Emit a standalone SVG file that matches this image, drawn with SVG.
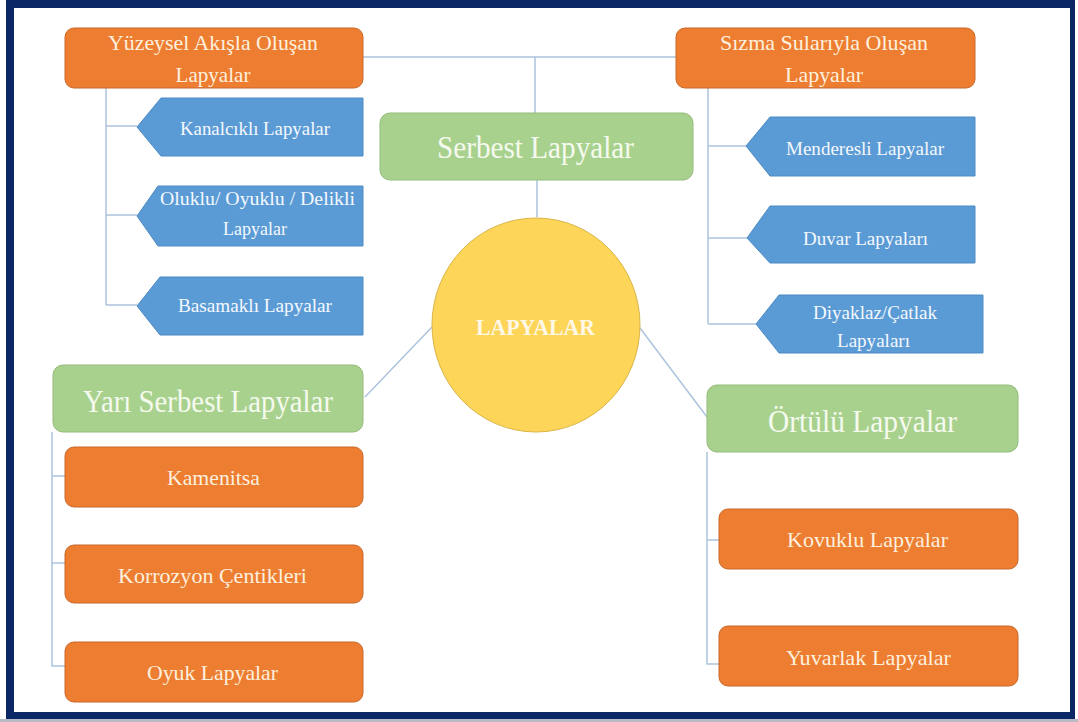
<svg xmlns="http://www.w3.org/2000/svg" width="1078" height="722" viewBox="0 0 1078 722">
<defs>
<style>
.t{font-family:'Liberation Serif',Tinos,'Times New Roman','DejaVu Serif',serif;text-anchor:middle;}
.or{fill:#ed7d31;stroke:#c8692b;stroke-width:1;}
.gr{fill:#a9d18e;stroke:#93bb7a;stroke-width:1;}
.bl{fill:#5b9bd5;stroke:#4d8bc4;stroke-width:1;}
.to{fill:#fdf0df;font-size:22px;}
.tg{fill:#f5faef;font-size:31px;}
.tb{fill:#f4f8fd;font-size:19px;}
.cn{fill:none;stroke:#adc3df;stroke-width:1.5;}
</style>
</defs>
<rect x="0" y="0" width="1078" height="722" fill="#ffffff"/>
<rect x="0" y="719" width="1078" height="3" fill="#b9bcc4"/>
<path d="M6 0H1075V719H6Z M14 8V712H1070V8Z" fill="#0c2766" fill-rule="evenodd"/>
<g id="connectors">
<path class="cn" d="M363 57H676M535 57V113M537 180V217"/>
<path class="cn" d="M106 88V305M106 126H137M106 215H137M106 305H137"/>
<path class="cn" d="M708 88V324M708 146H746M708 238H747M708 324H756"/>
<path class="cn" d="M432 327L365 397M640 328L707 417"/>
<path class="cn" d="M52 432V666H65M52 476H65M52 563H65"/>
<path class="cn" d="M707 452V664H719M707 540H719"/>
</g>
<g font-family="Liberation Serif, serif">
<g id="n-yuzeysel">
<rect class="or" x="65" y="28" width="298" height="60" rx="9"/>
<text class="t to" x="213" y="50" font-size="23" textLength="210" lengthAdjust="spacingAndGlyphs">Yüzeysel Akışla Oluşan</text>
<text class="t to" x="213" y="82" font-size="23" textLength="75" lengthAdjust="spacingAndGlyphs">Lapyalar</text>
</g>
<g id="n-sizma">
<rect class="or" x="676" y="28" width="299" height="60" rx="9"/>
<text class="t to" x="824" y="50" font-size="23" textLength="208" lengthAdjust="spacingAndGlyphs">Sızma Sularıyla Oluşan</text>
<text class="t to" x="824" y="82" font-size="23" textLength="78" lengthAdjust="spacingAndGlyphs">Lapyalar</text>
</g>
<g id="n-serbest">
<rect class="gr" x="380" y="113" width="313" height="67" rx="10"/>
<text class="t tg" x="535.5" y="158" textLength="197" lengthAdjust="spacingAndGlyphs">Serbest Lapyalar</text>
</g>
<g id="n-kanalcikli">
<path class="bl" d="M137 127L161 98H363V156H161Z"/>
<text class="t tb" x="255" y="135" textLength="150" lengthAdjust="spacingAndGlyphs">Kanalcıklı  Lapyalar</text>
</g>
<g id="n-oluklu">
<path class="bl" d="M137 216L158 186H363V246H158Z"/>
<text class="t tb" x="257.5" y="205" textLength="195" lengthAdjust="spacingAndGlyphs">Oluklu/ Oyuklu / Delikli</text>
<text class="t tb" x="255" y="235" textLength="64" lengthAdjust="spacingAndGlyphs">Lapyalar</text>
</g>
<g id="n-basamakli">
<path class="bl" d="M137 306L160 277H363V335H160Z"/>
<text class="t tb" x="255" y="312" textLength="154" lengthAdjust="spacingAndGlyphs">Basamaklı  Lapyalar</text>
</g>
<g id="n-menderesli">
<path class="bl" d="M746 146L770 117H975V176H770Z"/>
<text class="t tb" x="865" y="155" textLength="158" lengthAdjust="spacingAndGlyphs">Menderesli  Lapyalar</text>
</g>
<g id="n-duvar">
<path class="bl" d="M747 238L770 206H975V263H770Z"/>
<text class="t tb" x="865.5" y="245" textLength="125" lengthAdjust="spacingAndGlyphs">Duvar Lapyaları</text>
</g>
<g id="n-diyaklaz">
<path class="bl" d="M756 324L779 295H983V353H779Z"/>
<text class="t tb" x="875" y="319" textLength="124" lengthAdjust="spacingAndGlyphs">Diyaklaz/Çatlak</text>
<text class="t tb" x="873.5" y="347" textLength="73" lengthAdjust="spacingAndGlyphs">Lapyaları</text>
</g>
<g id="n-lapyalar">
<ellipse cx="536" cy="325" rx="104" ry="107" fill="#fdd558" stroke="#d9b548" stroke-width="1"/>
<text class="t" x="535.5" y="335" font-size="24" font-weight="bold" fill="#fff8e6" textLength="119" lengthAdjust="spacingAndGlyphs">LAPYALAR</text>
</g>
<g id="n-yari-serbest">
<rect class="gr" x="53" y="365" width="310" height="67" rx="10"/>
<text class="t tg" x="208" y="412" textLength="250" lengthAdjust="spacingAndGlyphs">Yarı Serbest Lapyalar</text>
</g>
<g id="n-kamenitsa">
<rect class="or" x="65" y="447" width="298" height="60" rx="9"/>
<text class="t to" x="213.5" y="485" textLength="93" lengthAdjust="spacingAndGlyphs">Kamenitsa</text>
</g>
<g id="n-korrozyon">
<rect class="or" x="65" y="545" width="298" height="58" rx="9"/>
<text class="t to" x="212.5" y="583" textLength="189" lengthAdjust="spacingAndGlyphs">Korrozyon Çentikleri</text>
</g>
<g id="n-oyuk">
<rect class="or" x="65" y="642" width="298" height="60" rx="9"/>
<text class="t to" x="212.5" y="680" textLength="131" lengthAdjust="spacingAndGlyphs">Oyuk Lapyalar</text>
</g>
<g id="n-ortulu">
<rect class="gr" x="707" y="385" width="311" height="67" rx="10"/>
<text class="t tg" x="862.5" y="432" textLength="189" lengthAdjust="spacingAndGlyphs">Örtülü Lapyalar</text>
</g>
<g id="n-kovuklu">
<rect class="or" x="719" y="509" width="299" height="60" rx="9"/>
<text class="t to" x="867.5" y="547" textLength="161" lengthAdjust="spacingAndGlyphs">Kovuklu Lapyalar</text>
</g>
<g id="n-yuvarlak">
<rect class="or" x="719" y="626" width="299" height="60" rx="9"/>
<text class="t to" x="868.5" y="665" textLength="165" lengthAdjust="spacingAndGlyphs">Yuvarlak Lapyalar</text>
</g>
</g>
</svg>
